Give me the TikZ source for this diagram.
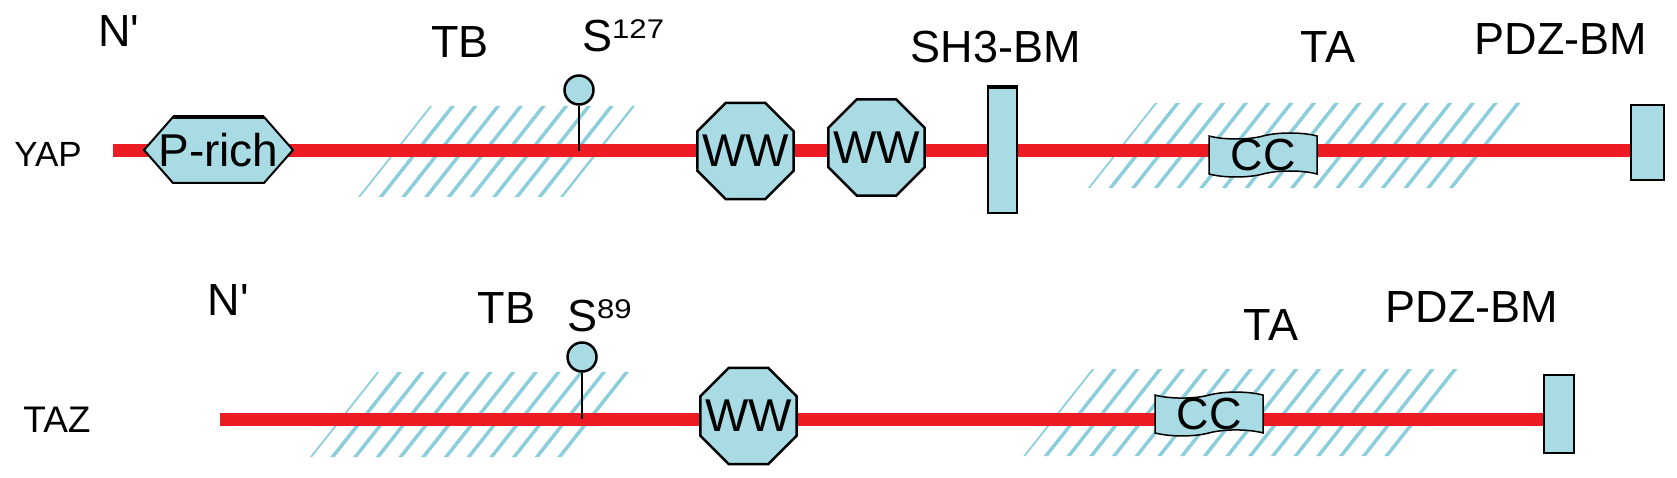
\documentclass[tikz,border=0pt]{standalone}
\usepackage{fontspec}
\setmainfont{Liberation Sans}[Ligatures=TeXOff]
\usepackage{graphicx}
\usetikzlibrary{shapes.geometric,shapes.symbols}
\definecolor{linered}{RGB}{237,28,36}
\definecolor{boxblue}{RGB}{168,219,228}
\definecolor{hatchblue}{RGB}{140,206,220}
\pgfdeclarelayer{hatchlayer}
\pgfdeclarelayer{linelayer}
\pgfsetlayers{hatchlayer,linelayer,main}
\newcommand\lblfont{\fontsize{45}{54}\selectfont}
\newcommand\supnum[1]{\raisebox{13pt}{\scalebox{1.15}[1]{\fontsize{27}{30}\selectfont #1}}}
\newcommand\zerowd[1]{\makebox[0pt]{#1}}
% #1 top y, #2 bottom y, #3 top-left x, #4 top-right x
\newcommand\hatchzone[4]{%
  \begin{scope}
    \pgfmathsetmacro\hzoff{(#2-#1)*0.79}%
    \clip (#3,#1) -- (#4,#1) -- ({#4-\hzoff},#2) -- ({#3-\hzoff},#2) -- cycle;
    \foreach \hzi in {0,...,20}{\draw[hatch] ({#3-\hzoff+\hzi*22.7-4},{#2+5}) -- ({#3+\hzi*22.7+4},{#1-5});}
  \end{scope}}
\tikzset{
  dombox/.style={draw=black, fill=boxblue, line width=2pt, inner sep=0pt},
  octa/.style={dombox, line width=2.5pt, regular polygon, regular polygon sides=8, minimum size=104pt, font=\fontsize{46}{50}\selectfont},
  motif/.style={dombox, rectangle, line width=2.5pt},
  phos/.style={dombox, circle, minimum size=29pt, line width=2.5pt},
  coil/.style={dombox, tape, tape bend top=in and out, tape bend bottom=in and out, tape bend height=6pt, minimum width=108pt, minimum height=44pt, line width=1.5pt, font=\fontsize{45}{50}\selectfont},
  lbl/.style={inner sep=0pt, anchor=base, font=\lblfont},
  backbone/.style={draw=linered, line width=13pt},
  stick/.style={draw=black, line width=2.5pt},
  hatch/.style={draw=hatchblue, line width=3.5pt},
  prich/.style={inner sep=0pt, minimum width=155pt, minimum height=72pt, font=\fontsize{46}{50}\selectfont,
    path picture={
      \path (path picture bounding box.center) coordinate (hc);
      \filldraw[fill=boxblue, draw=black, line width=2pt]
        ([xshift=-74.5pt]hc) -- ([xshift=-45.5pt,yshift=33pt]hc) -- ([xshift=45.5pt,yshift=33pt]hc)
        -- ([xshift=74.5pt]hc) -- ([xshift=45.5pt,yshift=-33pt]hc) -- ([xshift=-45.5pt,yshift=-33pt]hc) -- cycle;
      \draw[line width=4pt] ([xshift=-45.5pt,yshift=33pt]hc) -- ([xshift=45.5pt,yshift=33pt]hc);
    }},
}
\begin{document}
\begin{tikzpicture}[x=1pt, y=-1pt]
\useasboundingbox (0,0) rectangle (1677,478);

% ---------------- YAP ----------------
\node[lbl, font=\fontsize{35}{40}\selectfont] (yap) at (48,167) {YAP};
\node[lbl] (nY) at (119,47) {N'};
\node[lbl] (tbY) at (460,58) {TB};
\node[lbl, anchor=base west] (sY) at (582,52) {S\supnum{127}};
\node[lbl] (shY) at (995.5,63) {SH3-BM};
\node[lbl] (taY) at (1328,63) {TA};
\node[lbl] (pdzYl) at (1561,55) {PDZ-BM};

\node[prich] (prich) at (218.5,150) {P-rich};
\node[octa] (ww1) at (745.5,151) {\zerowd{WW}};
\node[octa] (ww2) at (876.5,147.5) {\zerowd{WW}};
\node[motif, minimum width=29pt, minimum height=125pt] (sh3) at (1002.5,150.5) {};
\draw[line width=4pt] (sh3.north west) -- (sh3.north east);
\node[coil] (ccY) at (1263,155) {CC};
\node[motif, minimum width=33pt, minimum height=75pt] (pdzY) at (1647.5,142.5) {};
\node[phos] (p127) at (579,90) {};
\coordinate (yapstart) at (113,151);
\draw[stick] (p127.south) -- (p127.south |- yapstart);

% ---------------- TAZ ----------------
\node[lbl, font=\fontsize{37}{40}\selectfont] (taz) at (57,432) {TAZ};
\node[lbl] (nT) at (228.5,315) {N'};
\node[lbl] (tbT) at (506.5,323) {TB};
\node[lbl, anchor=base west] (sT) at (567,331) {S\supnum{89}};
\node[lbl] (taT) at (1271,340) {TA};
\node[lbl] (pdzTl) at (1472,322) {PDZ-BM};

\node[octa] (ww3) at (748.5,416) {\zerowd{WW}};
\node[coil, minimum height=42pt] (ccT) at (1209,414) {CC};
\node[motif, minimum width=30pt, minimum height=78pt] (pdzT) at (1559,414) {};
\node[phos] (p89) at (582,357) {};
\coordinate (tazstart) at (220,419);
\draw[stick] (p89.south) -- (p89.south |- tazstart);

% ---------------- backbones ----------------
\begin{pgfonlayer}{linelayer}
\draw[backbone] (yapstart) -- (yapstart -| pdzY.center);
\draw[backbone] (tazstart) -- (tazstart -| pdzT.center);
\end{pgfonlayer}

% ---------------- hatched regions ----------------
\begin{pgfonlayer}{hatchlayer}
\hatchzone{106}{197}{430}{635}
\hatchzone{103}{188}{1155}{1535}
\hatchzone{372}{457}{377}{638}
\hatchzone{369}{456}{1092}{1472}
\end{pgfonlayer}
\end{tikzpicture}
\end{document}
